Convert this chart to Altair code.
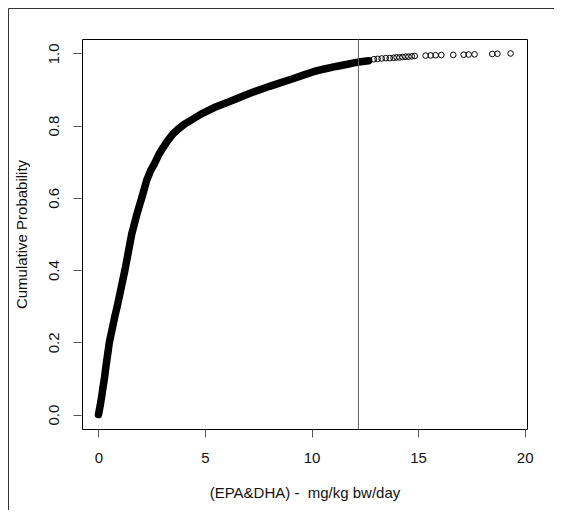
import altair as alt
import pandas as pd

# ECDF curve (dense part of the sample)
curve_x = [0.00, 0.08, 0.15, 0.21, 0.28, 0.33, 0.39, 0.45, 0.51, 0.60, 0.69, 0.78,
           0.88, 0.97, 1.06, 1.15, 1.24, 1.32, 1.40, 1.48, 1.56, 1.67, 1.78, 1.90,
           2.03, 2.15, 2.27, 2.44, 2.61, 2.83, 3.04, 3.24, 3.48, 3.73, 4.03, 4.37,
           4.81, 5.43, 5.95, 6.45, 6.99, 7.54, 8.03, 8.56, 9.12, 9.61, 10.12, 10.60,
           11.15, 11.68, 11.99, 12.30, 12.68]
curve_p = [0.000, 0.025, 0.050, 0.075, 0.100, 0.125, 0.150, 0.175, 0.200, 0.225, 0.250, 0.275,
           0.300, 0.325, 0.350, 0.375, 0.400, 0.425, 0.450, 0.475, 0.500, 0.525, 0.550, 0.575,
           0.600, 0.625, 0.650, 0.675, 0.693, 0.720, 0.740, 0.758, 0.776, 0.790, 0.804, 0.816,
           0.832, 0.850, 0.862, 0.874, 0.887, 0.899, 0.909, 0.919, 0.930, 0.940, 0.950, 0.957,
           0.964, 0.970, 0.974, 0.977, 0.980]

# sparse upper tail of the sample
tail_x = [12.92, 13.10, 13.29, 13.48, 13.67, 13.85, 13.99, 14.13, 14.27, 14.41, 14.55, 14.70,
          14.84, 15.35, 15.59, 15.82, 16.09, 16.65, 17.14, 17.37, 17.65, 18.48, 18.72, 19.34]
tail_p = [0.984, 0.985, 0.986, 0.987, 0.987, 0.988, 0.989, 0.989, 0.990, 0.991, 0.991, 0.992,
          0.993, 0.9940, 0.9945, 0.9950, 0.9955, 0.9960, 0.9965, 0.9970, 0.9975, 0.9985, 0.9992, 1.000]

ref_x = [12.2]
x_ticks = [0, 5, 10, 15, 20]
y_ticks = [0.0, 0.2, 0.4, 0.6, 0.8, 1.0]

FONT = "Liberation Sans"
W, H = 445, 390
PAD = {"left": 74, "top": 31, "right": 27, "bottom": 81}

curve = pd.DataFrame({"x": curve_x, "p": curve_p})
points = pd.DataFrame({"x": curve_x + tail_x, "p": curve_p + tail_p})
ref = pd.DataFrame({"x": ref_x})

xs = alt.Scale(domain=[-0.774, 20.11], nice=False, zero=False)
ys = alt.Scale(domain=[-0.04, 1.04], nice=False, zero=False)

x_axis = alt.Axis(values=x_ticks, format="d", title="(EPA&DHA) - \u00a0mg/kg bw/day",
                  domain=False, grid=False, tickSize=8, tickColor="#555555", offset=0,
                  labelFont=FONT, labelFontSize=15, labelColor="#111", labelPadding=13,
                  titleFont=FONT, titleFontSize=15, titleFontWeight="normal",
                  titleColor="#111", titlePadding=20)
y_axis = alt.Axis(values=y_ticks, format=".1f", title="Cumulative Probability",
                  domain=False, grid=False, tickSize=8, tickColor="#555555", offset=1,
                  labelAngle=270, labelAlign="center", labelBaseline="bottom",
                  labelFont=FONT, labelFontSize=15, labelColor="#111", labelPadding=12,
                  titleFont=FONT, titleFontSize=15, titleFontWeight="normal",
                  titleColor="#111", titlePadding=17)

band = alt.Chart(curve).mark_line(color="black", strokeWidth=7.5, strokeCap="round",
                                  strokeJoin="round").encode(
    x=alt.X("x:Q", scale=xs, axis=x_axis),
    y=alt.Y("p:Q", scale=ys, axis=y_axis),
    order="p:Q",
)
pts = alt.Chart(points).mark_point(shape="circle", filled=False, color="black",
                                   size=32, strokeWidth=1, opacity=1).encode(
    x=alt.X("x:Q", scale=xs),
    y=alt.Y("p:Q", scale=ys),
)
vline = alt.Chart(ref).mark_rule(color="#606060", strokeWidth=1).encode(
    x=alt.X("x:Q", scale=xs),
)
frame_top = alt.Chart(ref).mark_rule(color="#333", strokeWidth=1).encode(
    x=alt.value(-PAD["left"] + 0.5), x2=alt.value(W + PAD["right"]),
    y=alt.value(-PAD["top"] + 0.5),
)
frame_left = alt.Chart(ref).mark_rule(color="#333", strokeWidth=1).encode(
    x=alt.value(-PAD["left"] + 0.5),
    y=alt.value(-PAD["top"] + 0.5), y2=alt.value(H + PAD["bottom"]),
)

chart = alt.layer(band, pts, vline, frame_top, frame_left).properties(
    width=W, height=H, padding=PAD, autosize=alt.AutoSizeParams(type="none"),
    background="white",
).configure_view(stroke="black", strokeWidth=1)

chart.save("out.html", embed_options={"renderer": "svg", "actions": False})
